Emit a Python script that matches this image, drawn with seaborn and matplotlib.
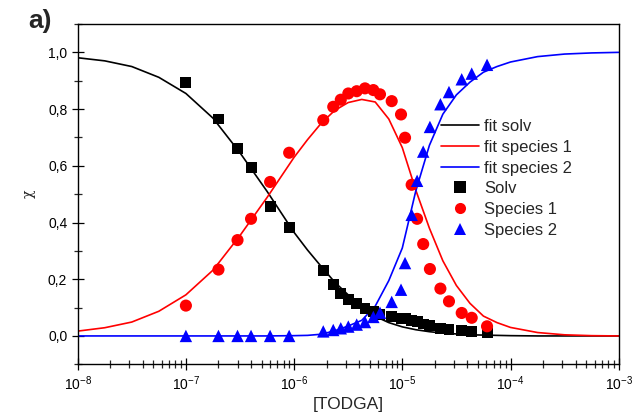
import numpy as np
import pandas as pd
import matplotlib
matplotlib.use("Agg")
import matplotlib.pyplot as plt
import matplotlib.ticker as mticker
import seaborn as sns

# ---- measured data points ----
conc = [1.0e-7, 2.0e-7, 3.0e-7, 4.0e-7, 6.0e-7, 9.0e-7, 1.86e-6, 2.3e-6, 2.7e-6,
        3.17e-6, 3.79e-6, 4.52e-6, 5.4e-6, 6.22e-6, 7.98e-6, 9.73e-6, 1.06e-5,
        1.22e-5, 1.37e-5, 1.56e-5, 1.80e-5, 2.25e-5, 2.70e-5, 3.54e-5, 4.38e-5, 6.07e-5]
solv = [0.893, 0.765, 0.660, 0.594, 0.458, 0.384, 0.232, 0.180, 0.150, 0.130, 0.115,
        0.096, 0.085, 0.075, 0.068, 0.063, 0.060, 0.055, 0.050, 0.042, 0.037, 0.027,
        0.023, 0.020, 0.017, 0.012]
species1 = [0.107, 0.234, 0.338, 0.413, 0.543, 0.646, 0.761, 0.808, 0.833, 0.855, 0.863,
            0.873, 0.867, 0.852, 0.828, 0.781, 0.699, 0.533, 0.413, 0.324, 0.236, 0.167,
            0.122, 0.081, 0.064, 0.034]
species2 = [0.0, 0.0, 0.0, 0.0, 0.0, 0.0, 0.016, 0.021, 0.027, 0.033, 0.040, 0.049,
            0.067, 0.082, 0.120, 0.163, 0.257, 0.427, 0.547, 0.650, 0.737, 0.817, 0.860,
            0.905, 0.925, 0.956]

# ---- fitted curves ----
fit_conc = [1e-8, 1.78e-8, 3.16e-8, 5.62e-8, 1e-7, 1.78e-7, 3.16e-7, 5.62e-7, 1e-6,
            1.33e-6, 1.78e-6, 2.37e-6, 3.16e-6, 4.22e-6, 5.62e-6, 7.5e-6, 1e-5,
            1.33e-5, 1.78e-5, 2.37e-5, 3.16e-5, 4.22e-5, 5.62e-5, 7.5e-5, 1e-4,
            1.78e-4, 3.16e-4, 5.62e-4, 1e-3]
fit_solv = [0.981, 0.970, 0.950, 0.912, 0.855, 0.768, 0.646, 0.510, 0.365, 0.303,
            0.245, 0.190, 0.145, 0.103, 0.069, 0.047, 0.032, 0.022, 0.015, 0.010,
            0.007, 0.004, 0.003, 0.002, 0.001, 0.0, 0.0, 0.0, 0.0]
fit_species1 = [0.017, 0.029, 0.049, 0.087, 0.145, 0.232, 0.354, 0.488, 0.630, 0.692,
                0.750, 0.795, 0.823, 0.834, 0.825, 0.765, 0.664, 0.515, 0.380, 0.265,
                0.178, 0.115, 0.070, 0.047, 0.030, 0.012, 0.004, 0.001, 0.0]
fit_species2 = [0.0, 0.0, 0.0, 0.0, 0.0, 0.0, 0.0, 0.0, 0.001, 0.002, 0.006, 0.018,
                0.035, 0.055, 0.105, 0.195, 0.310, 0.510, 0.672, 0.782, 0.850, 0.895,
                0.930, 0.950, 0.966, 0.985, 0.994, 0.998, 1.0]

x_ticks = [1e-8, 1e-7, 1e-6, 1e-5, 1e-4, 1e-3]
y_ticks = [0.0, 0.2, 0.4, 0.6, 0.8, 1.0]
y_ticklabels = ["0,0", "0,2", "0,4", "0,6", "0,8", "1,0"]

sns.set_theme(style="ticks")
plt.rcParams["font.family"] = ["Liberation Sans", "DejaVu Sans"]

W, H = 637, 417
fig = plt.figure(figsize=(W / 100, H / 100), dpi=100)
ax = fig.add_axes([77.7 / W, (H - 364.3) / H, (618.7 - 77.7) / W, (364.3 - 24) / H])

fits = pd.DataFrame({
    "conc": fit_conc * 3,
    "value": fit_solv + fit_species1 + fit_species2,
    "series": ["fit solv"] * len(fit_conc) + ["fit species 1"] * len(fit_conc)
              + ["fit species 2"] * len(fit_conc),
})
pts = pd.DataFrame({
    "conc": conc * 3,
    "value": solv + species1 + species2,
    "series": ["Solv"] * len(conc) + ["Species 1"] * len(conc) + ["Species 2"] * len(conc),
})

line_colors = {"fit solv": "black", "fit species 1": "#ff0000", "fit species 2": "#0000ff"}
pt_colors = {"Solv": "black", "Species 1": "#ff0000", "Species 2": "#0000ff"}
pt_markers = {"Solv": "s", "Species 1": "o", "Species 2": "^"}
pt_sizes = {"Solv": 62, "Species 1": 76, "Species 2": 80}

sns.lineplot(data=fits, x="conc", y="value", hue="series", palette=line_colors,
             linewidth=1.2, ax=ax, zorder=2, sort=True)
sns.scatterplot(data=pts, x="conc", y="value", hue="series", style="series",
                size="series", sizes=pt_sizes,
                palette=pt_colors, markers=pt_markers, linewidth=0,
                ax=ax, zorder=3)

ax.set_xscale("log")
ax.set_xlim(1e-8, 1e-3)
ax.set_ylim(-0.1, 1.1)
ax.set_xticks(x_ticks)
ax.xaxis.set_major_formatter(mticker.LogFormatterMathtext())
ax.xaxis.set_minor_locator(mticker.LogLocator(base=10, subs=np.arange(2, 10)))
ax.xaxis.set_minor_formatter(mticker.NullFormatter())
ax.set_yticks(y_ticks)
ax.set_yticklabels(y_ticklabels)
ax.yaxis.set_minor_locator(mticker.MultipleLocator(0.1))

ax.tick_params(which="major", direction="inout", length=9, width=0.9, labelsize=10,
               colors="black", pad=3)
ax.tick_params(which="minor", direction="inout", length=5.5, width=0.9)
for sp in ax.spines.values():
    sp.set_visible(True)
    sp.set_color("black")
    sp.set_linewidth(1.0)

ax.set_xlabel("[TODGA]", fontsize=12.5, labelpad=3)
ax.set_ylabel("χ", fontsize=10, family=["DejaVu Serif"], labelpad=9)

handles, labels = ax.get_legend_handles_labels()
order = ["fit solv", "fit species 1", "fit species 2", "Solv", "Species 1", "Species 2"]
hmap = dict(zip(labels, handles))
leg = ax.legend([hmap[k] for k in order], order, frameon=False, fontsize=12,
                loc="upper left", bbox_to_anchor=(441 / W, 1 - 119 / H),
                bbox_transform=fig.transFigure, borderpad=0, labelspacing=0.345,
                handlelength=2.3, handletextpad=0.3, borderaxespad=0)
for h in leg.legend_handles[3:]:
    if hasattr(h, "set_markersize"):
        h.set_markersize(8)

fig.text(28 / W, 1 - 28 / H, "a)", fontsize=19, fontweight="bold", va="baseline")

fig.savefig("out.png", dpi=100)
